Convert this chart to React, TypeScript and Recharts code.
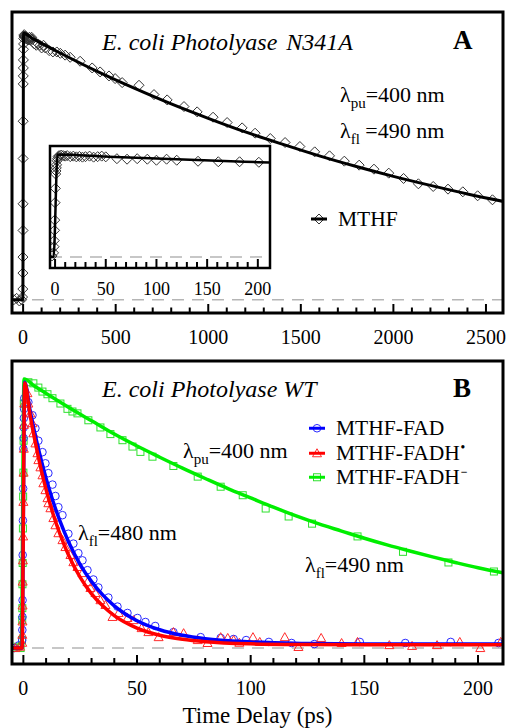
import React from "react";
import {
  ComposedChart,
  Line,
  Scatter,
  XAxis,
  YAxis,
  ReferenceLine,
  ReferenceArea,
  Legend,
  Label,
} from "recharts";

const FONT = "'Liberation Serif', 'Times New Roman', serif";

/*
  PANEL A : N341A mutant, MTHF emission (diamonds + fit)
*/

const mthfTime = [
  -50, -35, -20, -8, -3,
  -1.5, -1, -0.8, -0.5, -0.3, 0, 0.3, 0.6, 0.9, 1.2, 1.5, 2, 2.5, 3,
  4, 6, 8, 10, 12, 15, 18, 21, 24, 27, 30, 34, 38, 42, 46, 50,
  61, 71, 81, 91, 100, 110, 120, 141, 161, 182, 201,
  227, 254, 308, 373, 416, 464, 497, 535, 626, 707, 778, 869, 940,
  1026, 1102, 1183, 1253, 1335, 1415, 1495, 1575, 1655, 1735, 1815, 1895, 1975, 2055, 2135, 2215, 2295, 2375, 2455, 2535,
];
const mthfValue = [
  0.0, 0.005, -0.005, 0.0, 0.01,
  0.04, 0.1, 0.16, 0.26, 0.36, 0.53, 0.67, 0.81, 0.84, 0.87, 0.9, 0.94, 0.96, 0.98,
  0.99, 0.995, 0.99, 0.985, 0.99, 0.98, 0.985, 0.978, 0.982, 0.975, 0.98, 0.985, 0.975, 0.98, 0.985, 0.978,
  0.96, 0.955, 0.96, 0.955, 0.945, 0.955, 0.945, 0.935, 0.93, 0.93, 0.925,
  0.918, 0.91, 0.895, 0.87, 0.855, 0.84, 0.83, 0.815, 0.805, 0.77, 0.75, 0.725, 0.705,
  0.685, 0.665, 0.645, 0.625, 0.605, 0.59, 0.575, 0.555, 0.54, 0.52, 0.505, 0.49, 0.475, 0.455, 0.435, 0.425, 0.415, 0.405, 0.39, 0.375,
];

const mthfFitTime = [-60, -1.5, 2.5, 50, 100, 200, 400, 600, 800, 1000, 1200, 1400, 1600, 1800, 2000, 2200, 2400, 2600];
const mthfFitValue = [0, 0, 1.0, 0.981, 0.962, 0.926, 0.857, 0.794, 0.735, 0.681, 0.63, 0.584, 0.54, 0.5, 0.463, 0.429, 0.397, 0.368];

const mainTicks = [
  0, 100, 200, 300, 400, 500, 600, 700, 800, 900, 1000, 1100, 1200, 1300,
  1400, 1500, 1600, 1700, 1800, 1900, 2000, 2100, 2200, 2300, 2400, 2500,
];
const mainLabels = [0, 500, 1000, 1500, 2000, 2500];

const insetTicks = [
  0, 10, 20, 30, 40, 50, 60, 70, 80, 90, 100, 110, 120, 130, 140, 150, 160, 170, 180, 190, 200,
];
const insetLabels = [0, 50, 100, 150, 200];

/*
  PANEL B : wild type, three cofactor states
*/

// MTHF-FAD (blue circles)
const fadTime = [
  -4, -2,
  -0.5, -0.45, -0.4, -0.35, -0.3, -0.2, -0.1, 0, 0.1, 0.15, 0.2, 0.3, 0.4,
  2.2, 4, 5.3, 6.6, 8.4, 9.7, 11, 12.8, 14.1, 15.4,
  17.2, 19.8, 22, 24.2, 26, 28.2, 30.8, 33, 37.4, 41.4,
  45.8, 50.2, 53.7, 58, 66, 78, 86.8, 92.5, 98, 108,
  118, 128, 148, 168, 188, 209,
];
const fadValue = [
  0, 0.01,
  0.03, 0.068, 0.117, 0.18, 0.35, 0.48, 0.6, 0.75, 0.79, 0.83, 0.865, 0.9, 0.94,
  0.925, 0.876, 0.827, 0.78, 0.737, 0.695, 0.658, 0.615, 0.572, 0.53,
  0.5, 0.43, 0.393, 0.357, 0.33, 0.293, 0.258, 0.228, 0.19, 0.156,
  0.132, 0.113, 0.098, 0.083, 0.06, 0.041, 0.038, 0.034, 0.03, 0.023,
  0.019, 0.015, 0.023, 0.019, 0.023, 0.019,
];

// MTHF-FADH* (red triangles)
const fadhTime = [
  -3.5, -1.5,
  -0.5, -0.45, -0.4, -0.35, -0.3, -0.2, -0.1, 0, 0.1, 0.2, 0.3, 0.4,
  1.8, 2.2, 3.1, 4, 4.4, 5.3, 6.2, 6.6, 7.5, 8.4,
  8.8, 9.7, 10.6, 11, 11.9, 13.2, 14.1, 15.4, 17.2, 18.5,
  20.7, 22, 23.8, 26, 28.2, 29.5, 31.7, 33.9, 36.1, 39.2,
  41.9, 45.8, 48.5, 52, 55, 59.5, 66, 70.5, 76.7, 81, 86.8, 89.9,
  92.5, 95, 101, 104, 115, 121, 131, 140, 147, 161,
  171, 182, 192, 201, 210,
];
const fadhValue = [
  0, 0.005,
  0.02, 0.05, 0.1, 0.16, 0.25, 0.33, 0.42, 0.55, 0.66, 0.75, 0.84, 0.92,
  0.959, 0.92, 0.883, 0.846, 0.808, 0.77, 0.733, 0.707, 0.68, 0.65,
  0.62, 0.594, 0.564, 0.545, 0.526, 0.489, 0.462, 0.432, 0.406, 0.38,
  0.35, 0.323, 0.305, 0.282, 0.248, 0.226, 0.207, 0.18, 0.162, 0.117,
  0.132, 0.113, 0.105, 0.075, 0.06, 0.041, 0.06, 0.056, 0.03, 0.019, 0.041, 0.038,
  0.03, 0.02, 0.041, 0.023, 0.041, 0.004, 0.038, 0.019, 0.023, 0.011,
  0.008, 0.011, 0.023, 0.0, 0.023,
];

// MTHF-FADH- (green squares)
const fadhmTime = [
  -4.5, -2.5, -1.2,
  -0.6, -0.5, -0.45, -0.4, -0.3, -0.2, -0.1, 0, 0.1, 0.2,
  2.2, 4.4, 6.6, 8.4, 10.6, 12.8, 16.3, 19.4, 21.6, 23.8, 28.6, 33.9, 38.3, 43.6,
  48, 51.5, 56.8, 66, 76.7, 86.8, 96.5, 106.6, 116.7, 127, 147, 167, 187, 207,
];
const fadhmValue = [
  0, 0.005, 0,
  0.03, 0.105, 0.15, 0.24, 0.32, 0.45, 0.57, 0.66, 0.78, 0.92,
  1.0, 0.996, 0.98, 0.965, 0.955, 0.94, 0.92, 0.9, 0.89, 0.883, 0.857, 0.83, 0.805, 0.782,
  0.758, 0.738, 0.72, 0.685, 0.645, 0.607, 0.575, 0.525, 0.495, 0.468, 0.42, 0.362, 0.322, 0.288,
];

// fitted curves
const wtFitTime = [-5, -0.6, 0.6, 3, 5, 8, 10, 13, 16, 20, 25, 30, 35, 40, 50, 60, 70, 80, 100, 125, 150, 211];
const fadFitValue = [0, 0, 1.0, 0.891, 0.81, 0.702, 0.638, 0.553, 0.48, 0.397, 0.314, 0.25, 0.199, 0.159, 0.103, 0.069, 0.048, 0.035, 0.023, 0.017, 0.015, 0.015];
const fadhFitValue = [0, 0, 0.997, 0.874, 0.784, 0.665, 0.596, 0.506, 0.431, 0.347, 0.266, 0.204, 0.158, 0.122, 0.075, 0.048, 0.033, 0.024, 0.016, 0.013, 0.012, 0.012];

const fadhmFitTime = [-5, -0.9, 0.3, 5, 10, 20, 30, 40, 50, 60, 70, 80, 90, 100, 110, 120, 130, 140, 150, 160, 170, 180, 190, 200, 211];
const fadhmFitValue = [0, 0, 1.012, 0.985, 0.958, 0.905, 0.855, 0.805, 0.76, 0.718, 0.677, 0.638, 0.6, 0.565, 0.53, 0.497, 0.467, 0.44, 0.413, 0.388, 0.365, 0.343, 0.322, 0.302, 0.283];

const wtTicks = [
  0, 10, 20, 30, 40, 50, 60, 70, 80, 90, 100, 110, 120, 130, 140, 150, 160, 170, 180, 190, 200,
];
const wtLabels = [0, 50, 100, 150, 200];

// axis ranges
const MAIN_X: [number, number] = [-60, 2592];
const MAIN_Y: [number, number] = [-0.05, 1.08];
const INSET_X: [number, number] = [-5, 212];
const INSET_Y: [number, number] = [-0.108, 1.084];
const WT_X: [number, number] = [-5, 211];
const WT_Y: [number, number] = [-0.06, 1.08];

const zip = (ts: number[], vs: number[]) => ts.map((t, i) => ({ t, v: vs[i] }));

const mthfPoints = zip(mthfTime, mthfValue);
const mthfFit = zip(mthfFitTime, mthfFitValue);
const fadPoints = zip(fadTime, fadValue);
const fadhPoints = zip(fadhTime, fadhValue);
const fadhmPoints = zip(fadhmTime, fadhmValue);
const fadFit = zip(wtFitTime, fadFitValue);
const fadhFit = zip(wtFitTime, fadhFitValue);
const fadhmFit = zip(fadhmFitTime, fadhmFitValue);

/* marker shapes */

const Diamond = ({ cx, cy }: any) => (
  <path
    d={`M${cx},${cy - 5} L${cx + 5},${cy} L${cx},${cy + 5} L${cx - 5},${cy} Z`}
    fill="none"
    stroke="#333"
    strokeWidth={1}
  />
);

const Circle = ({ cx, cy }: any) => (
  <circle cx={cx} cy={cy} r={3.8} fill="none" stroke="#2b2bff" strokeWidth={1} />
);

const Triangle = ({ cx, cy }: any) => (
  <path
    d={`M${cx},${cy - 4.5} L${cx + 4.5},${cy + 3.5} L${cx - 4.5},${cy + 3.5} Z`}
    fill="none"
    stroke="#ff2b2b"
    strokeWidth={1}
  />
);

const Square = ({ cx, cy }: any) => (
  <rect x={cx - 3.5} y={cy - 3.5} width={7} height={7} fill="none" stroke="#2ee02e" strokeWidth={1} />
);

/* inward pointing ticks, labels under the frame */

const makeTick =
  (labels: number[], major: number, minor: number, fontSize: number, dy: number) =>
  (props: any) => {
    const { x, y, payload } = props;
    const isMajor = labels.includes(payload.value);
    return (
      <g>
        <line x1={x} x2={x} y1={y} y2={y - (isMajor ? major : minor)} stroke="#000" strokeWidth={2} />
        {isMajor && (
          <text x={x} y={y + dy} textAnchor="middle" fontSize={fontSize} fontFamily={FONT} fill="#000">
            {payload.value}
          </text>
        )}
      </g>
    );
  };

const mainTick = makeTick(mainLabels, 9, 5.5, 20, 31);
const insetTick = makeTick(insetLabels, 9, 6, 18, 27);
const wtTick = makeTick(wtLabels, 9, 6, 20, 31);

/* legends */

interface LegendItem {
  name: string;
  sup?: string;
  color: string;
  Shape: (p: any) => React.ReactElement;
}

const aLegend: LegendItem[] = [{ name: "MTHF", color: "#000", Shape: Diamond }];
const bLegend: LegendItem[] = [
  { name: "MTHF-FAD", color: "#0000ff", Shape: Circle },
  { name: "MTHF-FADH", sup: "\u2022", color: "#ff0000", Shape: Triangle },
  { name: "MTHF-FADH", sup: "\u2212", color: "#00ee00", Shape: Square },
];

const LegendBox = ({ items, rowHeight }: { items: LegendItem[]; rowHeight: number }) => (
  <div style={{ fontFamily: FONT, fontSize: 21.5, color: "#000" }}>
    {items.map((it, i) => (
      <div key={i} style={{ display: "flex", alignItems: "center", height: rowHeight, lineHeight: `${rowHeight}px` }}>
        <svg width={20} height={rowHeight}>
          <it.Shape cx={10} cy={rowHeight / 2} />
          <line x1={2} x2={18} y1={rowHeight / 2} y2={rowHeight / 2} stroke={it.color} strokeWidth={3} />
        </svg>
        <span style={{ marginLeft: 9, whiteSpace: "nowrap" }}>
          {it.name}
          {it.sup && (
            <sup style={{ fontSize: 12, lineHeight: 0, fontWeight: "bold", marginLeft: 1 }}>{it.sup}</sup>
          )}
        </span>
      </div>
    ))}
  </div>
);

const frame = (xd: [number, number], yd: [number, number], w: number) => (
  <ReferenceArea
    x1={xd[0]}
    x2={xd[1]}
    y1={yd[0]}
    y2={yd[1]}
    fill="none"
    stroke="#000"
    strokeWidth={w}
    ifOverflow="visible"
    zIndex={1500}
  />
);

const baseline = (
  <ReferenceLine y={0} stroke="#b5b5b5" strokeWidth={1.5} strokeDasharray="12 8" />
);

const Lambda = ({ x, y, sub, rest }: { x: number; y: number; sub: string; rest: string }) => (
  <text x={x} y={y} fontSize={22}>
    {"\u03bb"}
    <tspan fontSize={15} dy={6}>
      {sub}
    </tspan>
    <tspan dy={-6}>{rest}</tspan>
  </text>
);

const App = () => {
  return (
    <div
      style={{
        position: "absolute",
        left: 0,
        top: 0,
        width: 507,
        height: 728,
        background: "#fff",
        fontFamily: FONT,
      }}
    >
      {/* PANEL A */}

      <div style={{ position: "absolute", left: 0, top: 0 }}>
        <ComposedChart width={507} height={349} margin={{ top: 12, right: 4, bottom: 0, left: 12 }}>
          <XAxis
            type="number"
            dataKey="t"
            domain={MAIN_X}
            allowDataOverflow
            ticks={mainTicks}
            interval={0}
            tickSize={0}
            tickMargin={0}
            tickLine={false}
            axisLine={false}
            height={36}
            tick={mainTick}
          />
          <YAxis type="number" dataKey="v" domain={MAIN_Y} allowDataOverflow hide />
          {baseline}
          <Scatter data={mthfPoints} dataKey="v" shape={Diamond} isAnimationActive={false} />
          <Line
            data={mthfFit}
            dataKey="v"
            type="monotone"
            stroke="#000"
            strokeWidth={3}
            dot={false}
            isAnimationActive={false}
            zIndex={700}
          />
          {frame(MAIN_X, MAIN_Y, 3)}
          <Legend
            layout="vertical"
            align="center"
            verticalAlign="middle"
            wrapperStyle={{ left: 309, top: 206, width: 120 }}
            content={() => <LegendBox items={aLegend} rowHeight={26} />}
          />
        </ComposedChart>
      </div>

      {/* INSET (first 200 ps) */}

      <div style={{ position: "absolute", left: 40, top: 136 }}>
        <ComposedChart width={240} height={170} margin={{ top: 10, right: 10, bottom: 0, left: 10 }}>
          <XAxis
            type="number"
            dataKey="t"
            domain={INSET_X}
            allowDataOverflow
            ticks={insetTicks}
            interval={0}
            tickSize={0}
            tickMargin={0}
            tickLine={false}
            axisLine={false}
            height={38}
            tick={insetTick}
          />
          <YAxis type="number" dataKey="v" domain={INSET_Y} allowDataOverflow hide />
          {baseline}
          <Scatter data={mthfPoints} dataKey="v" shape={Diamond} isAnimationActive={false} />
          <Line
            data={mthfFit}
            dataKey="v"
            type="monotone"
            stroke="#000"
            strokeWidth={2.5}
            dot={false}
            isAnimationActive={false}
            zIndex={700}
          />
          {frame(INSET_X, INSET_Y, 2.5)}
        </ComposedChart>
      </div>

      {/* PANEL B */}

      <div style={{ position: "absolute", left: 0, top: 349 }}>
        <ComposedChart width={507} height={379} margin={{ top: 12, right: 4, bottom: 0, left: 12 }}>
          <XAxis
            type="number"
            dataKey="t"
            domain={WT_X}
            allowDataOverflow
            ticks={wtTicks}
            interval={0}
            tickSize={0}
            tickMargin={0}
            tickLine={false}
            axisLine={false}
            height={64}
            tick={wtTick}
          >
            <Label
              value="Time Delay (ps)"
              position="insideBottom"
              offset={5}
              style={{ fontFamily: FONT, fontSize: 23, fill: "#000" }}
            />
          </XAxis>
          <YAxis type="number" dataKey="v" domain={WT_Y} allowDataOverflow hide />
          {baseline}
          <Scatter data={fadhmPoints} dataKey="v" shape={Square} isAnimationActive={false} />
          <Scatter data={fadPoints} dataKey="v" shape={Circle} isAnimationActive={false} />
          <Scatter data={fadhPoints} dataKey="v" shape={Triangle} isAnimationActive={false} />
          <Line
            data={fadhmFit}
            dataKey="v"
            type="monotone"
            stroke="#00ee00"
            strokeWidth={3.5}
            dot={false}
            isAnimationActive={false}
            zIndex={700}
          />
          <Line
            data={fadFit}
            dataKey="v"
            type="monotone"
            stroke="#0000ff"
            strokeWidth={3.5}
            dot={false}
            isAnimationActive={false}
            zIndex={710}
          />
          <Line
            data={fadhFit}
            dataKey="v"
            type="monotone"
            stroke="#ff0000"
            strokeWidth={3.5}
            dot={false}
            isAnimationActive={false}
            zIndex={720}
          />
          {frame(WT_X, WT_Y, 3)}
          <Legend
            layout="vertical"
            align="center"
            verticalAlign="middle"
            wrapperStyle={{ left: 307, top: 67, width: 190 }}
            content={() => <LegendBox items={bLegend} rowHeight={24.5} />}
          />
        </ComposedChart>
      </div>

      {/* ANNOTATIONS */}

      <svg
        width={507}
        height={728}
        style={{ position: "absolute", left: 0, top: 0, pointerEvents: "none" }}
        fontFamily={FONT}
        fill="#000"
      >
        <text x={102} y={50} fontSize={24} fontStyle="italic">
          {"E. coli Photolyase "}
          <tspan dx={3}>N341A</tspan>
        </text>
        <text x={453} y={49} fontSize={27} fontWeight="bold">
          A
        </text>
        <Lambda x={340} y={102} sub="pu" rest="=400 nm" />
        <Lambda x={340} y={138} sub="fl" rest=" =490 nm" />

        <text x={102} y={397} fontSize={24} fontStyle="italic">
          E. coli Photolyase WT
        </text>
        <text x={453} y={397} fontSize={27} fontWeight="bold">
          B
        </text>
        <Lambda x={183} y={458} sub="pu" rest="=400 nm" />
        <Lambda x={78} y={540} sub="fl" rest="=480 nm" />
        <Lambda x={305} y={572} sub="fl" rest="=490 nm" />
      </svg>
    </div>
  );
};

export default App;
